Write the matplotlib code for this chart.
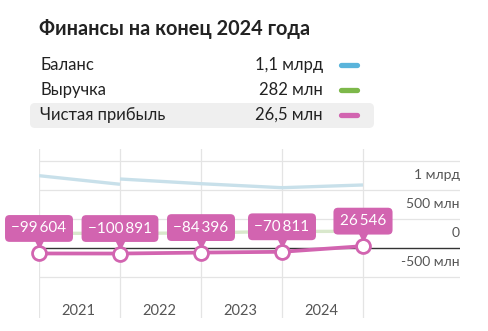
import matplotlib.pyplot as plt
from matplotlib.patches import FancyBboxPatch
from matplotlib.transforms import offset_copy

plt.rcParams['font.family'] = ['Lato', 'DejaVu Sans']

# data (values in mln rub, profit labels in thousand rub)
years = ["2021", "2022", "2023", "2024"]
profit = [-99604, -100891, -84396, -70811, 26546]
revenue = [250, 245, 255, 280, 282]
balance_a = [1241, 1093]
balance_b = [1184, 1103, 1034, 1081]
legend_names = ["Баланс", "Выручка", "Чистая прибыль"]
legend_values = ["1,1 млрд", "282 млн", "26,5 млн"]
ytick_vals = [1000, 500, 0, -500]
ytick_labels = ["1 млрд", "500 млн", "0", "-500 млн"]

W, H = 489, 331
PINK = '#d264b0'
BLUE = '#5ab4db'
GREEN = '#7db84a'


def fmt(v):
    s = f"{abs(v):,}".replace(",", "\u2009")
    return ("\u2212" if v < 0 else "") + s


fig = plt.figure(figsize=(W / 100, H / 100), dpi=100)

# header drawn on a pixel-coordinate overlay
hd = fig.add_axes([0, 0, 1, 1])
hd.set_xlim(0, W)
hd.set_ylim(H, 0)
hd.axis('off')
hd.text(39, 29, "Финансы на конец 2024 года", fontsize=14.3,
        fontweight='bold', color='#222222', va='center')
hd.add_patch(FancyBboxPatch((30, 103), 344, 25,
                            boxstyle="round,pad=0,rounding_size=5",
                            fc='#efefef', ec='none', zorder=0))
row_y = [65, 90, 115]
for name, val, col, ry in zip(legend_names, legend_values,
                              [BLUE, GREEN, PINK], row_y):
    hd.text(40, ry, name, fontsize=12, color='#222222', va='center')
    hd.text(323, ry, val, fontsize=12, color='#222222',
            va='center', ha='right')
    hd.plot([341, 357], [ry, ry], color=col, lw=3.8, solid_capstyle='round')

# chart area
ax = fig.add_axes([39 / W, 1 - 318 / H, 421 / W, (318 - 149) / H])
ax.set_xlim(0, 421 / 81)
ax.set_ylim(-1212, 1701)
ax.axis('off')

xs = list(range(len(profit)))
for x in xs:
    ax.axvline(x, color='#e4e4e4', lw=0.9, zorder=0)
for v in [1500, 1000, 500, -500]:
    ax.axhline(v, color='#e4e4e4', lw=0.9, zorder=0)
ax.axhline(0, color='#333333', lw=1.0, zorder=1)

for v, lab in zip(ytick_vals, ytick_labels):
    ax.text(421 / 81, v + 250, lab, ha='right', va='center',
            fontsize=10, color='#555555')
for i, yr in enumerate(years):
    ax.text(i + 0.48, -1090, yr, ha='center', va='center',
            fontsize=10.5, color='#555555')

ax.plot(xs[:2], balance_a, color='#c8e0ea', lw=2.4, zorder=2,
        solid_capstyle='butt')
ax.plot(xs[1:], balance_b, color='#c8e0ea', lw=2.4, zorder=2,
        solid_capstyle='butt')
ax.plot(xs, revenue, color='#d9e8cc', lw=2.4, zorder=2)

profit_mln = [p / 1000 for p in profit]
ax.plot(xs, profit_mln, color=PINK, lw=2.7, zorder=3)
ax.plot(xs, profit_mln, 'o', ms=10, mfc='white', mec=PINK, mew=2.0,
        zorder=5, clip_on=False)

tri = offset_copy(ax.transData, fig=fig, x=0, y=9, units='dots')
ax.plot(xs, profit_mln, 'v', ms=6, color=PINK, transform=tri,
        zorder=4, clip_on=False)
for x, p, pm in zip(xs, profit, profit_mln):
    ax.annotate(fmt(p), (x, pm), xytext=(0, 25), textcoords='offset pixels',
                ha='center', va='center', fontsize=11, color='white',
                zorder=6, annotation_clip=False,
                bbox=dict(boxstyle='round,pad=0.42,rounding_size=0.3',
                          fc=PINK, ec='none'))

fig.savefig('out.png', dpi=100)
